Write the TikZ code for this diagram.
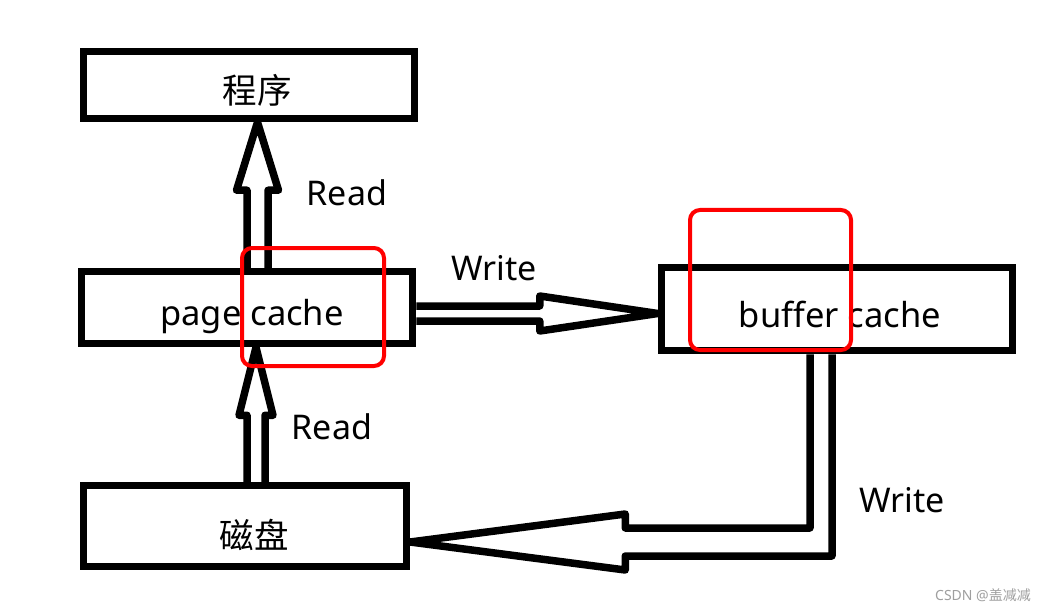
\documentclass[tikz,border=0pt]{standalone}
\usepackage{fontspec}
\setmainfont{Noto Sans}
\newfontfamily\cjk{Noto Sans CJK SC}
\usetikzlibrary{calc}
\newcommand\hollowarr[5]{% start, tip, half shaft, head length, half head
  \coordinate (ha-h) at ($(#2)!#4!(#1)$);
  \draw[hollow] ($(#1)!#3!90:(#2)$) -- ($(ha-h)!#3!90:(#2)$) -- ($(ha-h)!#5!90:(#2)$) -- (#2)
    -- ($(ha-h)!#5!-90:(#2)$) -- ($(ha-h)!#3!-90:(#2)$) -- ($(#1)!#3!-90:(#2)$);
}
\begin{document}
\begin{tikzpicture}[x=1pt,y=-1pt,
  boxn/.style={draw, line width=7.5pt, inner sep=0pt},
  boxtext/.style={font=\fontsize{34.5}{40}\selectfont, inner sep=0pt},
  hollow/.style={draw, line width=7.5pt, line join=round},
  lbl/.style={font=\fontsize{34}{40}\selectfont, inner sep=0pt},
  redbox/.style={draw=red, line width=4pt, rounded corners=10pt},
  wmark/.style={text=gray!75, font=\fontsize{14}{16}\selectfont, inner sep=0pt}]
\fill[white] (0,0) rectangle (1048,612);
\useasboundingbox (0,0) rectangle (1048,612);

\node[boxn, minimum width=331pt, minimum height=67pt,
  label={[boxtext, xshift=8pt, yshift=-5pt]center:{\cjk 程序}}] (prog) at (249,85) {};
\node[boxn, minimum width=331pt, minimum height=72pt,
  label={[boxtext, xshift=5pt, yshift=-9pt]center:page cache}] (pc) at (247,307.5) {};
\node[boxn, minimum width=351pt, minimum height=83pt,
  label={[boxtext, xshift=3pt, yshift=-5pt]center:buffer cache}] (bc) at (837,309) {};
\node[boxn, minimum width=323pt, minimum height=81pt,
  label={[boxtext, xshift=9pt, yshift=-9pt]center:{\cjk 磁盘}}] (disk) at (245,526) {};

% page cache -> 程序
\coordinate (s1) at ($(pc.north)+(10.5,0)$);
\coordinate (t1) at ($(prog.south)+(8.5,0)$);
\hollowarr{s1}{t1}{10.5pt}{68pt}{21pt}
% 磁盘 -> page cache
\coordinate (s2) at ($(disk.north)+(11,0)$);
\coordinate (t2) at ($(pc.south)+(9,0)$);
\hollowarr{s2}{t2}{9pt}{68pt}{17pt}
% page cache -> buffer cache
\coordinate (s3) at ($(pc.east)+(0,6)$);
\coordinate (t3) at ($(bc.west)+(0,4.5)$);
\hollowarr{s3}{t3}{7.5pt}{118pt}{17.5pt}
% buffer cache -> 磁盘
\coordinate (bs) at ($(bc.south)+(-16,0)$);
\coordinate (dt) at ($(disk.east)+(0,16)$);
\coordinate (corner) at (bs |- dt);
\draw[hollow] ($(bs)+(-11,0)$) -- ($(corner)+(-11,-14)$) -- ($(dt)+(215,-14)$) -- ($(dt)+(215,-28)$)
  -- (dt) -- ($(dt)+(215,28)$) -- ($(dt)+(215,14)$) -- ($(corner)+(11,14)$) -- ($(bs)+(11,0)$);

\node[lbl] (r1) at (347,193) {Read};
\node[lbl] (w1) at (494,268) {Write};
\node[lbl] (r2) at (332,427) {Read};
\node[lbl] (w2) at (902,500) {Write};

\draw[redbox] (242,248) rectangle (384,366);
\draw[redbox] (690,210) rectangle (851,350);

\node[wmark] (wm) at (983,595) {CSDN @{\cjk 盖减减}};
\end{tikzpicture}
\end{document}
